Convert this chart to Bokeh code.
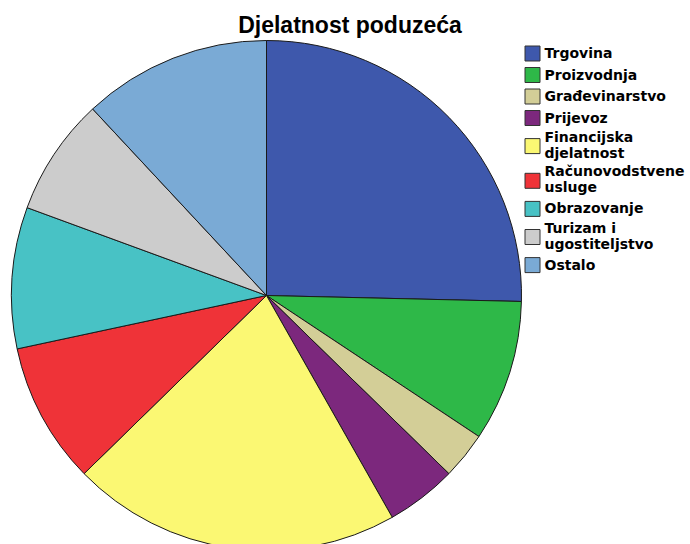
import numpy as np
import pandas as pd
from bokeh.plotting import figure
from bokeh.models import Range1d, ColumnDataSource
from bokeh.core.properties import value
from bokeh.embed import file_html
from bokeh.resources import INLINE

# ---- data ----
title_text = "Djelatnost poduzeća"
categories = ["Trgovina", "Proizvodnja", "Građevinarstvo", "Prijevoz",
              "Financijska\ndjelatnost", "Računovodstvene\nusluge", "Obrazovanje",
              "Turizam i\nugostiteljstvo", "Ostalo"]
counts = [17, 6, 2, 3, 14, 6, 6, 5, 8]
colors = ["#3E58AC", "#2EB848", "#D3CE97", "#7C287D", "#FBF873",
          "#EF3338", "#48C2C5", "#CCCCCC", "#7AAAD5"]

W, H = 690, 544
p = figure(width=W, height=H, output_backend="svg", toolbar_location=None,
           x_range=Range1d(0, W), y_range=Range1d(-H, 0),
           min_border=0)
p.xaxis.visible = False
p.yaxis.visible = False
p.grid.visible = False
p.outline_line_color = None
p.background_fill_color = "white"
p.border_fill_color = "white"

# ---- pie ----
df = pd.DataFrame({"cat": categories, "n": counts, "color": colors})
frac = df["n"] / df["n"].sum()
cum = frac.cumsum()
df["start"] = np.pi / 2 - (cum - frac) * 2 * np.pi
df["end"] = np.pi / 2 - cum * 2 * np.pi
cx, cy, r = 266, -295, 255
df["x"] = cx
df["y"] = cy
src = ColumnDataSource(df)
p.wedge(x="x", y="y", radius=r, start_angle="start", end_angle="end",
        direction="clock", fill_color="color", line_color="#1a1a1a",
        line_width=1, source=src)

# ---- legend (manual) ----
lx_sw, lx_txt = 532, 544
S, D = 21.5, 34.7
yc = 53
sw_x, sw_y, sw_c = [], [], []
tx, ty, tt = [], [], []
prev_h = None
for lab, col in zip(categories, colors):
    lines = lab.split("\n")
    h = S if len(lines) == 1 else D
    if prev_h is not None:
        yc += prev_h / 2 + h / 2
    prev_h = h
    sw_x.append(lx_sw)
    sw_y.append(-yc)
    sw_c.append(col)
    if len(lines) == 1:
        tx.append(lx_txt); ty.append(-(yc - 0.5)); tt.append(lines[0])
    else:
        tx.append(lx_txt); ty.append(-(yc - 9.5)); tt.append(lines[0])
        tx.append(lx_txt); ty.append(-(yc + 6.5)); tt.append(lines[1])

p.rect(x=sw_x, y=sw_y, width=15, height=15, fill_color=sw_c,
       line_color="#333333", line_width=1)
p.text(x=tx, y=ty, text=tt, text_font=value("DejaVu Sans"),
       text_font_style="bold", text_font_size="14px", text_baseline="middle",
       text_align="left", text_color="black")

# ---- title ----
p.text(x=[349.5], y=[-24], text=[title_text], text_align="center",
       text_baseline="middle", text_font=value("Liberation Sans"),
       text_font_style="bold", text_font_size="23px", text_color="black")

open("out.html", "w").write(file_html(p, INLINE))
